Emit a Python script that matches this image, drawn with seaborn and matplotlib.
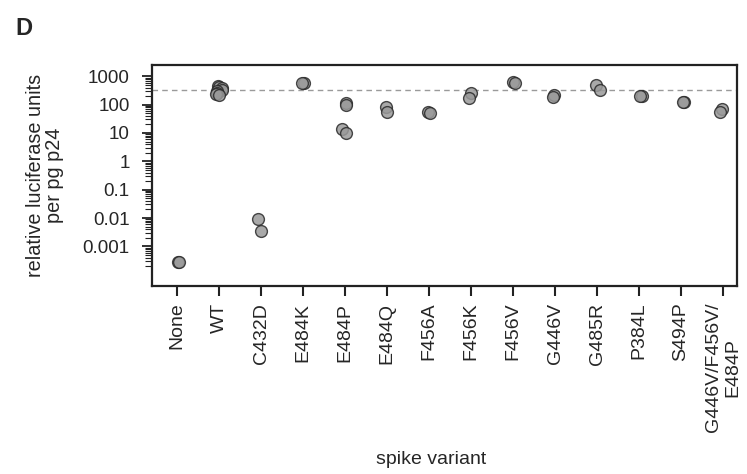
import numpy as np
import pandas as pd
import seaborn as sns
import matplotlib
matplotlib.use("Agg")
import matplotlib.pyplot as plt
from matplotlib.ticker import FixedLocator, FixedFormatter, NullFormatter

# values (relative luciferase units per pg p24)
variants = ["None", "WT", "C432D", "E484K", "E484P", "E484Q", "F456A", "F456K",
            "F456V", "G446V", "G485R", "P384L", "S494P", "G446V/F456V/\nE484P"]
none_vals = [2.8e-4, 2.8e-4]
wt_vals = [450, 420, 380, 340, 300, 260, 230, 210]
c432d_vals = [0.0095, 0.0035]
e484k_vals = [600, 580]
e484p_vals = [115, 100, 14, 10]
e484q_vals = [83, 55]
f456a_vals = [55, 52]
f456k_vals = [260, 178]
f456v_vals = [610, 590]
g446v_vals = [220, 190]
g485r_vals = [480, 340]
p384l_vals = [200, 195]
s494p_vals = [120, 125]
triple_vals = [69, 54]
wt_reference = 320

groups = [none_vals, wt_vals, c432d_vals, e484k_vals, e484p_vals, e484q_vals,
          f456a_vals, f456k_vals, f456v_vals, g446v_vals, g485r_vals,
          p384l_vals, s494p_vals, triple_vals]

df = pd.DataFrame({
    "variant": [v for v, vals in zip(variants, groups) for _ in vals],
    "rlu": [x for vals in groups for x in vals],
})

sns.set_style("white")
plt.rcParams["font.family"] = ["Liberation Sans", "DejaVu Sans"]
plt.rcParams["font.size"] = 13

fig = plt.figure(figsize=(7.47, 4.74), dpi=100)
ax = fig.add_axes([0.2035, 0.3966, 0.783, 0.4663])

np.random.seed(3)
sns.stripplot(data=df, x="variant", y="rlu", order=variants, ax=ax,
              jitter=0.08, size=8.5, color="#9a9a9a", edgecolor="#2a2a2a",
              linewidth=1.0, alpha=0.85, log_scale=True)

ax.axhline(wt_reference, color="#9a9a9a", ls=(0, (4, 3)), lw=1.0, zorder=0)

ax.set_yscale("log")
ax.set_ylim(4e-5, 2500)
ax.set_xlim(-0.6, 13.33)

majors = [1e-3, 1e-2, 1e-1, 1, 10, 100, 1000]
ax.yaxis.set_major_locator(FixedLocator(majors))
ax.yaxis.set_major_formatter(FixedFormatter(["0.001", "0.01", "0.1", "1", "10", "100", "1000"]))
ax.yaxis.set_minor_locator(FixedLocator([k * 10.0 ** e for e in range(-4, 3) for k in range(2, 10)]))
ax.yaxis.set_minor_formatter(NullFormatter())

ax.tick_params(axis="x", which="major", direction="out", length=7, width=1.5,
               color="#222222", labelsize=14, rotation=90, bottom=True, pad=5)
ax.tick_params(axis="y", which="major", direction="out", length=7, width=1.3,
               color="#222222", labelsize=13.5, left=True, pad=9)
ax.tick_params(axis="y", which="minor", direction="out", length=5, width=0.8,
               color="#222222", left=True)

for s in ax.spines.values():
    s.set_visible(True)
    s.set_linewidth(1.6)
    s.set_color("#222222")

ax.set_xlabel("spike variant", fontsize=14)
ax.xaxis.set_label_coords(0.477, -0.787)
ax.xaxis.label.set_va("center")
ax.set_ylabel("relative luciferase units\nper pg p24", fontsize=14.3, linespacing=1.05)
ax.yaxis.set_label_coords(-0.183, 0.5)
ax.yaxis.label.set_va("center")

fig.text(15 / 747, 1 - 35 / 474, "D", fontsize=17, fontweight="bold")

fig.savefig("out.png", dpi=100)
